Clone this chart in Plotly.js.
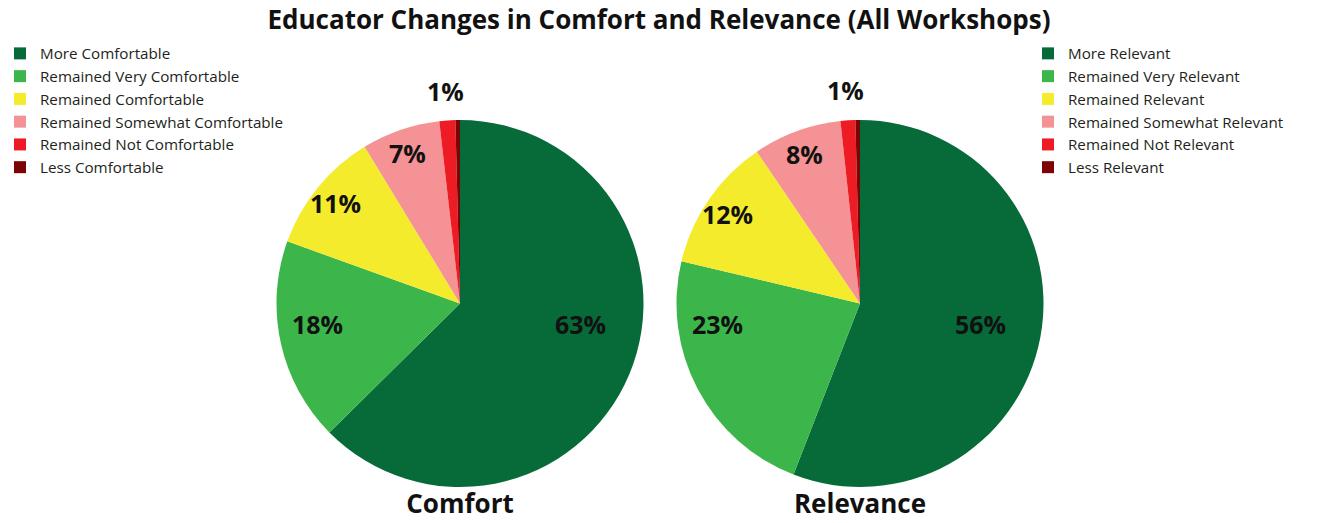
<!DOCTYPE html>
<html>
<head>
<meta charset="utf-8">
<script src="https://cdn.plot.ly/plotly-3.0.1.min.js"></script>
<style>html,body{margin:0;padding:0;background:#fff;}#chart{width:1318px;height:523px;}</style>
</head>
<body>
<div id="chart"></div>
<script>
const comfortLabels = ['More Comfortable','Remained Very Comfortable','Remained Comfortable','Remained Somewhat Comfortable','Remained Not Comfortable','Less Comfortable'];
const comfortValues = [62.6, 17.9, 10.8, 6.9, 1.4, 0.4];
const relevanceLabels = ['More Relevant','Remained Very Relevant','Remained Relevant','Remained Somewhat Relevant','Remained Not Relevant','Less Relevant'];
const relevanceValues = [55.9, 22.8, 11.8, 7.8, 1.3, 0.4];
const sliceColors = ['#076a39','#3cb54a','#f4eb2d','#f49295','#ed1c24','#7c0404'];
const titleText = 'Educator Changes in Comfort and Relevance (All Workshops)';

const W = 1318, H = 523;
const R = 185;            // pie radius in px
const TOP = 120;          // pie top in px
const FONT = 'Open Sans, sans-serif';
const boldFont = (s) => ({family:FONT, size:s, color:'#111', weight:700});

function pie(labels, values, cx, name, legend){
  const half = (R + 1) / W;
  return {
    type:'pie', labels:labels, values:values, sort:false, direction:'clockwise', rotation:0,
    marker:{colors:sliceColors, line:{width:0}},
    textinfo:'none',
    hoverinfo:'label+percent', legend:legend,
    domain:{x:[cx/W - half, cx/W + half], y:[0, 1 - TOP/H]},
    title:{text:name, position:'bottom center', font:boldFont(26)}
  };
}

// percentage labels placed from the data (mid-angle of each slice)
function pctAnnotations(values, cx){
  const cy = TOP + R;
  const total = values.reduce((a,b)=>a+b,0);
  let cum = 0;
  const out = [];
  values.forEach(v => {
    const frac = v/total;
    const mid = (cum + frac/2) * 2*Math.PI;
    cum += frac;
    const pct = Math.round(frac*100);
    if (pct < 1) return;
    let x, y;
    if (frac > 0.15) {
      const s = Math.sign(Math.sin(mid));
      x = cx + s * (s > 0 ? 0.65 : 0.77) * R;
      y = cy + 0.1*R;
    } else {
      const r = frac > 0.03 ? 0.87*R : R + 30;
      x = cx + Math.sin(mid)*r;
      y = cy - Math.cos(mid)*r;
    }
    out.push({xref:'paper', yref:'paper', x:x/W, y:1 - y/H, xanchor:'center', yanchor:'middle',
      text:pct + '%', showarrow:false, font:boldFont(25)});
  });
  return out;
}

const leftCx = 460, rightCx = 860;
const data = [
  pie(comfortLabels, comfortValues, leftCx, 'Comfort', 'legend'),
  pie(relevanceLabels, relevanceValues, rightCx, 'Relevance', 'legend2')
];

const legFont = {family:FONT, size:15.2, color:'#231f20'};
const layout = {
  width:W, height:H,
  margin:{l:0, r:0, t:0, b:0},
  paper_bgcolor:'#fff',
  title:{text:titleText, font:boldFont(26), x:0.5, xanchor:'center', y:1 - 20/H, yanchor:'middle'},
  showlegend:true,
  legend:{x:0, xanchor:'left', y:1 - 37/H, yanchor:'top', font:legFont, bgcolor:'rgba(0,0,0,0)'},
  legend2:{x:1028/W, xanchor:'left', y:1 - 37/H, yanchor:'top', font:legFont, bgcolor:'rgba(0,0,0,0)'},
  annotations: pctAnnotations(comfortValues, leftCx).concat(pctAnnotations(relevanceValues, rightCx))
};

Plotly.newPlot('chart', data, layout, {displayModeBar:false, staticPlot:true});
</script>
</body>
</html>
